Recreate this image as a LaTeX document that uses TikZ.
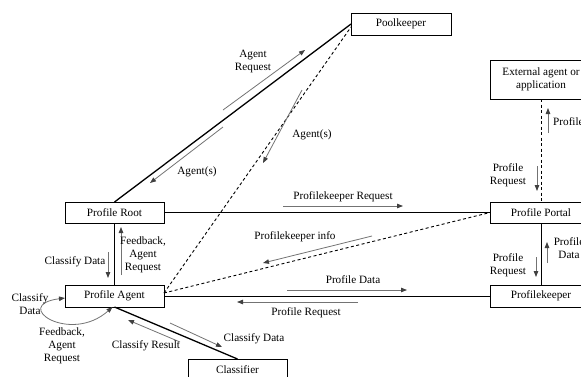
\documentclass[tikz,border=0pt]{standalone}
\usepackage{fontspec}
\setmainfont{Liberation Serif}
\usetikzlibrary{positioning,arrows.meta}

\begin{document}
\begin{tikzpicture}[
		x=1pt, y=-1pt,
		font=\fontsize{11.2}{13}\selectfont,
		>={Triangle[length=6pt,width=4.5pt,color=black!75]},
		box/.style = {
			draw, rectangle, line width=0.8pt,
			minimum width=99pt,
			minimum height=21pt,
			outer sep=0pt, inner sep=0pt
		},
		link/.style = {line width=0.8pt},
		heavy/.style = {line width=1.3pt},
		dashlink/.style = {line width=0.9pt, dash pattern=on 3pt off 2.5pt},
		flow/.style = {->, draw=black!55, line width=0.8pt},
		lbl/.style = {align=center, inner sep=0pt}
		]
		\useasboundingbox (0,0) rectangle (581,376);
		\node[box] (root) at (114.5,212.5) {Profile Root};
		\node[box, minimum height=22pt, below=62pt of root] (agent) {Profile Agent};
		\node[box, minimum width=102pt, right=326pt of root] (portal) {Profile Portal};
		\node[box, minimum width=102pt, minimum height=22pt, below=62pt of portal] (keeper) {Profilekeeper};
		\node[box, minimum width=100pt, minimum height=22pt] (pool) at (401,24) {Poolkeeper};
		\node[box, minimum width=102pt, minimum height=39pt, align=center] (ext) at (541,79.5) {External agent or\\application};
		\node[box, minimum height=22pt] (cls) at (237.5,370) {Classifier};

		\draw[heavy] (root.north) -- (pool.west);
		\draw[dashlink] ([yshift=3pt]agent.east) -- ([yshift=-3pt]pool.west);
		\draw[dashlink] ([yshift=3pt]agent.east) -- (portal.west);
		\draw[link] (root.east) -- (portal.west);
		\draw[link] (agent.east) -- (keeper.west);
		\draw[link] (root) -- (agent);
		\draw[link] (portal) -- (keeper);
		\draw[dashlink] (ext) -- (portal);
		\draw[heavy] (agent.south) -- (cls.north);
		\draw[flow, <->] ([yshift=-2pt]agent.west) .. controls (10,305) and (70,345) .. ([xshift=-2pt]agent.south);

		\foreach \n/\s/\e in {
			areq/{223,110}/{305,50}, agt/{223,127}/{150,183}, agtb/{302,90}/{263,163},
			pkreq/{283,206}/{403,206}, pkinfo/{372,236}/{263,263},
			pdata/{287,290}/{407,290}, preq/{358,302}/{237,302},
			cdata/{108,252}/{108,278}, fback/{121,275}/{121,227},
			cdatab/{170,323}/{222,347}, cres/{180,342}/{128,320},
			extup/{548,133}/{548,108}, extdn/{537,166}/{537,191},
			kreq/{536,257}/{536,277}, kdata/{547,263}/{547,242}} {
			\coordinate (\n s) at (\s);
			\coordinate (\n e) at (\e);
			\draw[flow] (\n s) -- (\n e);
		}

		\node[lbl] (areqlbl) at (253,61) {Agent\\Request};
		\node[lbl] (agtlbl) at (197,172) {Agent(s)};
		\node[lbl] (agtblbl) at (312,135) {Agent(s)};
		\node[lbl] (pkreqlbl) at (343,197) {Profilekeeper Request};
		\node[lbl] (pkinfolbl) at (295,237) {Profilekeeper info};
		\node[lbl] (pdatalbl) at (353,280) {Profile Data};
		\node[lbl] (preqlbl) at (306,313) {Profile Request};
		\node[lbl] (cdatalbl) at (75,262) {Classify Data};
		\node[lbl] (fbacklbl) at (143,255) {Feedback,\\Agent\\Request};
		\node[lbl] (cdatablbl) at (254,339) {Classify Data};
		\node[lbl] (creslbl) at (146,346) {Classify Result};
		\node[lbl] (loopin) at (30,304) {Classify\\Data};
		\node[lbl] (loopout) at (62,346) {Feedback,\\Agent\\Request};
		\node[lbl, anchor=west] (extuplbl) at (553,122) {Profile};
		\node[lbl] (extdnlbl) at (508,175) {Profile\\Request};
		\node[lbl] (kreqlbl) at (508,265) {Profile\\Request};
		\node[lbl] (kdatalbl) at (569,248) {Profile\\Data};
	\end{tikzpicture}
\end{document}
